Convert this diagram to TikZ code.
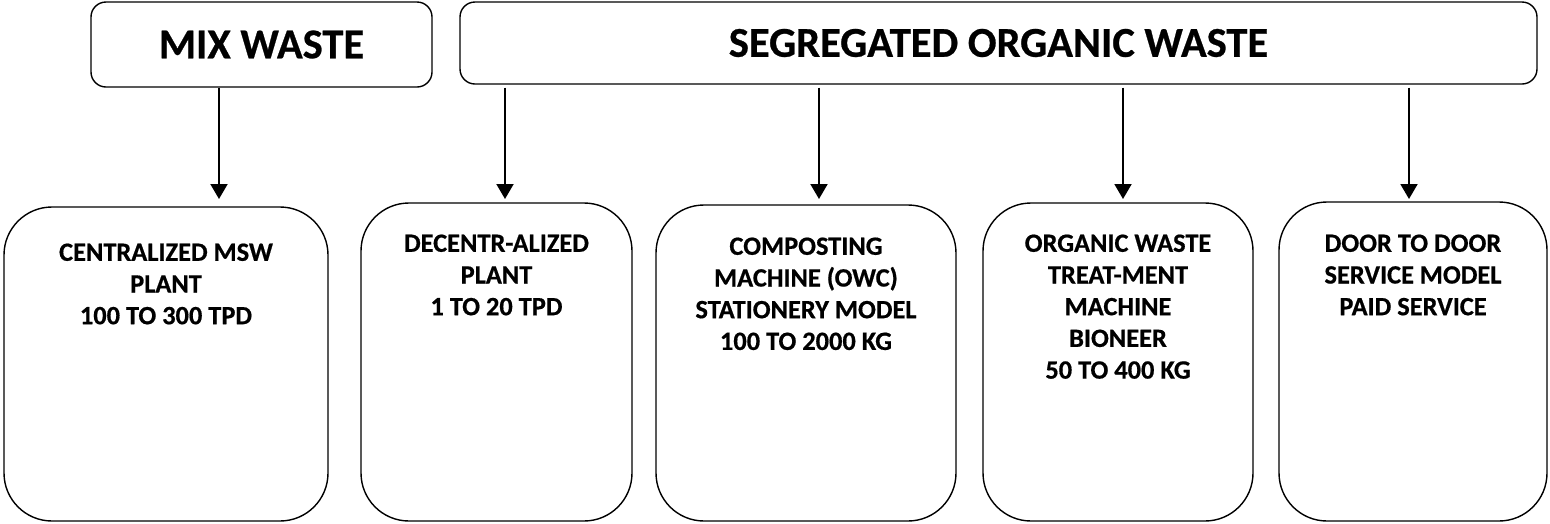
\documentclass[tikz,border=0pt]{standalone}
\usepackage{fontspec}
\setmainfont{Carlito}[BoldFeatures={FakeBold=0.6}]
\usetikzlibrary{arrows.meta}
\begin{document}
\begin{tikzpicture}[x=1pt,y=-1pt,
  topbox/.style={draw, line width=1.4pt, rounded corners=15pt, inner sep=0pt},
  lowbox/.style={draw, line width=1.4pt, rounded corners=48pt, inner sep=0pt},
  toptext/.style={font=\bfseries\fontsize{42.5}{46}\selectfont},
  lowtext/.style={font=\bfseries\fontsize{26.4}{31.7}\selectfont, align=center, anchor=north, inner sep=0pt},
  arr/.style={line width=2pt, -{Triangle[width=17pt,length=15pt]}}]
\useasboundingbox (0,0) rectangle (1550,523);
\fill[white] (0,0) rectangle (1550,523);
% top boxes
\node[topbox, minimum width=341pt, minimum height=85pt, toptext] (mix) at (261.5,44.5) {MIX WASTE};
\node[topbox, minimum width=1077pt, minimum height=82pt, toptext] (seg) at (998.5,43) {SEGREGATED ORGANIC WASTE};
% lower boxes
\node[lowbox, minimum width=324pt, minimum height=314pt] (b1) at (166,364) {};
\node[lowbox, minimum width=271pt, minimum height=318pt] (b2) at (496.5,362) {};
\node[lowbox, minimum width=300pt, minimum height=316pt] (b3) at (806,363) {};
\node[lowbox, minimum width=270pt, minimum height=318pt] (b4) at (1118,362) {};
\node[lowbox, minimum width=268pt, minimum height=319pt] (b5) at (1413,361.5) {};
% texts
\node[lowtext] (t1) at ([yshift=-37pt]b1.north) {CENTRALIZED MSW\\PLANT\\100 TO 300 TPD};
\node[lowtext] (t2) at ([yshift=-32pt]b2.north) {DECENTR-ALIZED\\PLANT\\1 TO 20 TPD};
\node[lowtext] (t3) at ([yshift=-33pt]b3.north) {COMPOSTING\\MACHINE (OWC)\\STATIONERY MODEL\\100 TO 2000 KG};
\node[lowtext] (t4) at ([yshift=-32pt]b4.north) {ORGANIC WASTE\\TREAT-MENT\\MACHINE\\BIONEER\\50 TO 400 KG};
\node[lowtext] (t5) at ([yshift=-33pt]b5.north) {DOOR TO DOOR\\SERVICE MODEL\\PAID SERVICE};
% arrow end points
\coordinate (a1) at (219,199);
\coordinate (a2) at (505,199);
\coordinate (a3) at (819,199);
\coordinate (a4) at (1123,199);
\coordinate (a5) at (1409,199);
\draw[arr] (mix.south -| a1) -- (a1);
\draw[arr, shorten <=3pt] (seg.south -| a2) -- (a2);
\draw[arr, shorten <=3pt] (seg.south -| a3) -- (a3);
\draw[arr, shorten <=3pt] (seg.south -| a4) -- (a4);
\draw[arr, shorten <=3pt] (seg.south -| a5) -- (a5);
\end{tikzpicture}
\end{document}
